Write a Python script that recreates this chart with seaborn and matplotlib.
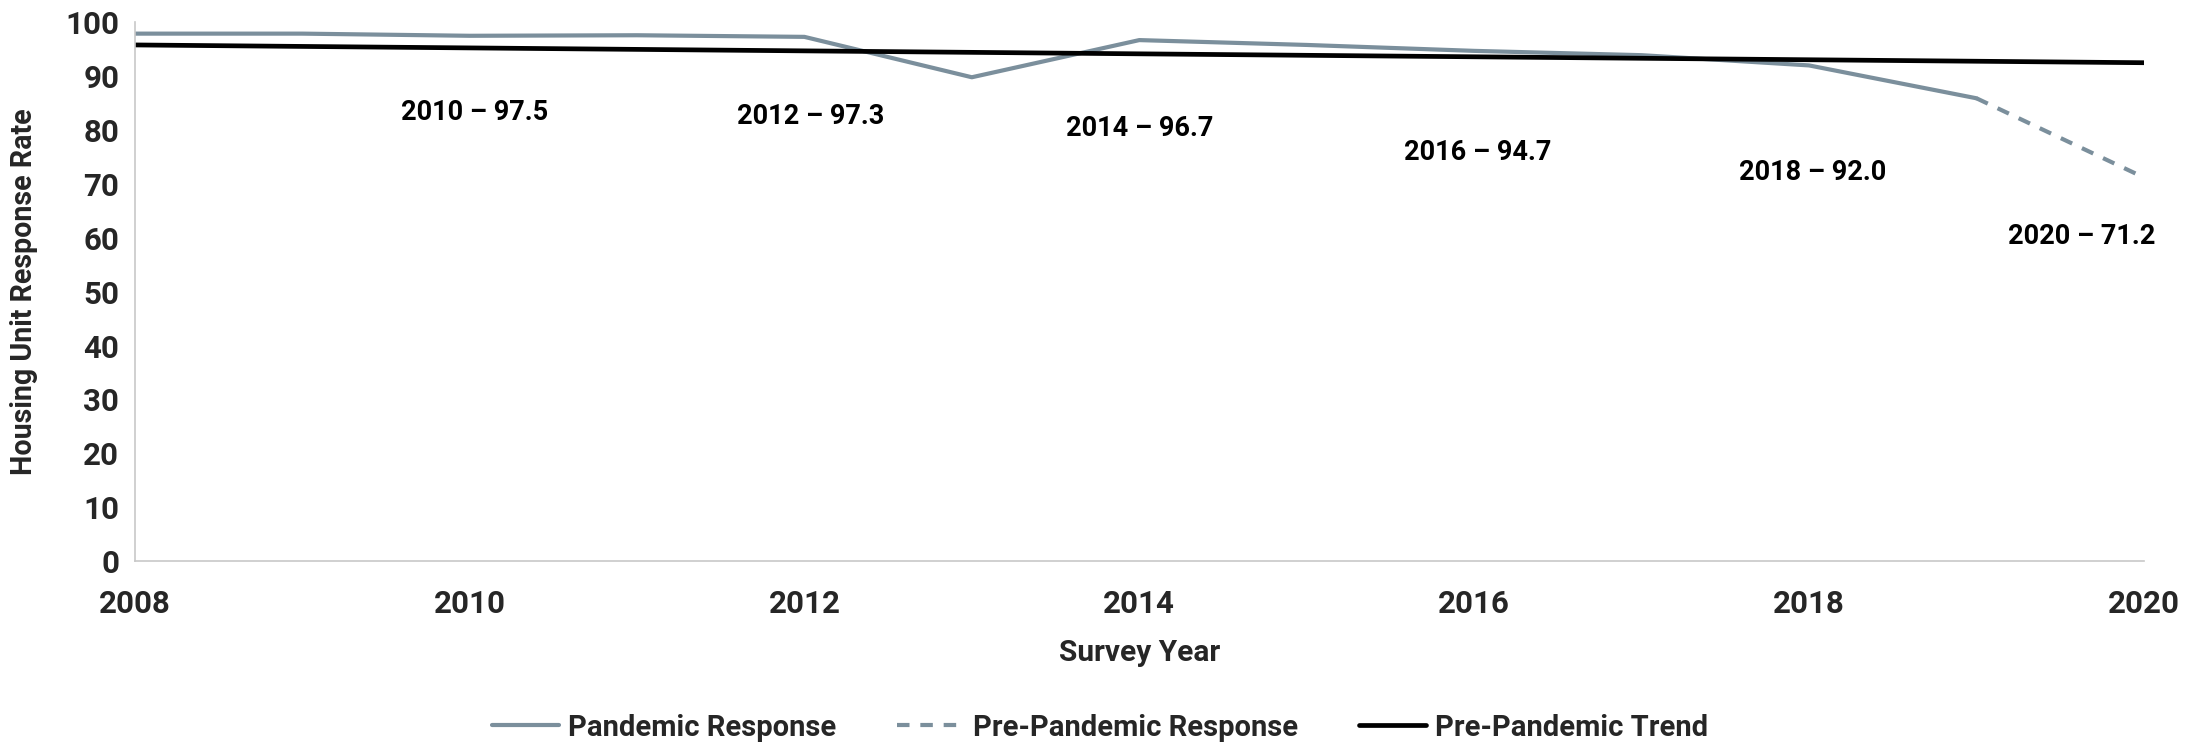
import matplotlib
matplotlib.use("Agg")
import matplotlib.pyplot as plt
from matplotlib import font_manager
import seaborn as sns
import pandas as pd

# Housing unit response rate by survey year
years = [2008, 2009, 2010, 2011, 2012, 2013, 2014, 2015, 2016, 2017, 2018, 2019, 2020]
response = [97.9, 97.9, 97.5, 97.6, 97.3, 89.8, 96.7, 95.8, 94.7, 93.9, 92.0, 85.9, 71.2]

# Linear pre-pandemic trend endpoints
trend_years = [2008, 2020]
trend_values = [95.8, 92.5]

# Annotated years
label_years = [2010, 2012, 2014, 2016, 2018, 2020]
label_values = [97.5, 97.3, 96.7, 94.7, 92.0, 71.2]

x_ticks = [2008, 2010, 2012, 2014, 2016, 2018, 2020]
y_ticks = list(range(0, 101, 10))

sns.set_theme(style="white")


def pick_bold_family(candidates):
    """Return the first family whose bold lookup resolves to a bold file."""
    for name in candidates:
        try:
            path = font_manager.findfont(
                font_manager.FontProperties(family=name, weight="bold"),
                fallback_to_default=False)
        except Exception:
            continue
        if "bold" in path.lower():
            return name
    return "DejaVu Sans"


FONT = pick_bold_family(["Liberation Sans Narrow", "Roboto", "Lato", "Open Sans"])
FAMILY = [FONT, "DejaVu Sans"]
plt.rcParams["font.family"] = FAMILY

GRAY = "#7b8f9c"

df = pd.DataFrame({"year": years, "rate": response})
solid = df[df["year"] <= 2019]
dashed = df[df["year"] >= 2019]
trend = pd.DataFrame({"year": trend_years, "rate": trend_values})

fig = plt.figure(figsize=(22, 7.44), dpi=100)
ax = fig.add_axes([0.0612, 0.246, 0.9133, 0.724])

sns.lineplot(data=solid, x="year", y="rate", ax=ax, color=GRAY, linewidth=3.0,
             label="Pandemic Response")
sns.lineplot(data=dashed, x="year", y="rate", ax=ax, color=GRAY, linewidth=3.0,
             linestyle=(0, (3, 2.6)), label="Pre-Pandemic Response")
sns.lineplot(data=trend, x="year", y="rate", ax=ax, color="black", linewidth=3.4,
             label="Pre-Pandemic Trend")

# Value labels placed below each annotated point
label_drop = [14.2, 14.7, 16.5, 18.9, 19.9, 11.0]
label_shift = [0.03, 0.04, 0.0, 0.02, 0.02, -0.37]
for yr, val, d, s in zip(label_years, label_values, label_drop, label_shift):
    ax.text(yr + s, val - d, f"{yr} \u2013 {val:.1f}", ha="center", va="center",
            fontsize=19.5, fontweight="bold", family=FAMILY, color="black")

ax.set_xlim(2008, 2020)
ax.set_ylim(0, 100)
ax.set_xticks(x_ticks)
ax.set_yticks(y_ticks)
ax.tick_params(axis="y", length=0, labelsize=22.5, pad=11)
ax.tick_params(axis="x", length=0, labelsize=22.5, pad=20)
for lbl in ax.get_xticklabels() + ax.get_yticklabels():
    lbl.set_fontweight("bold")
    lbl.set_family(FAMILY)

ax.set_xlabel("Survey Year", fontsize=21.5, fontweight="bold", family=FAMILY)
ax.set_ylabel("Housing Unit Response Rate", fontsize=20.6, fontweight="bold", family=FAMILY)
ax.xaxis.set_label_coords(0.5, -0.145)
ax.yaxis.set_label_coords(-0.048, 0.5)

for side in ["top", "right"]:
    ax.spines[side].set_visible(False)
for side in ["left", "bottom"]:
    ax.spines[side].set_color("#c8c8c8")
    ax.spines[side].set_linewidth(1.2)

leg = fig.legend(*ax.get_legend_handles_labels(), loc="center", bbox_to_anchor=(0.5, 0.022),
                 ncol=3, frameon=False, handlelength=2.3, columnspacing=2.1,
                 handletextpad=0.3, prop={"family": FAMILY, "weight": "bold", "size": 21})
ax.get_legend().remove()

fig.savefig("out.png", dpi=100)
